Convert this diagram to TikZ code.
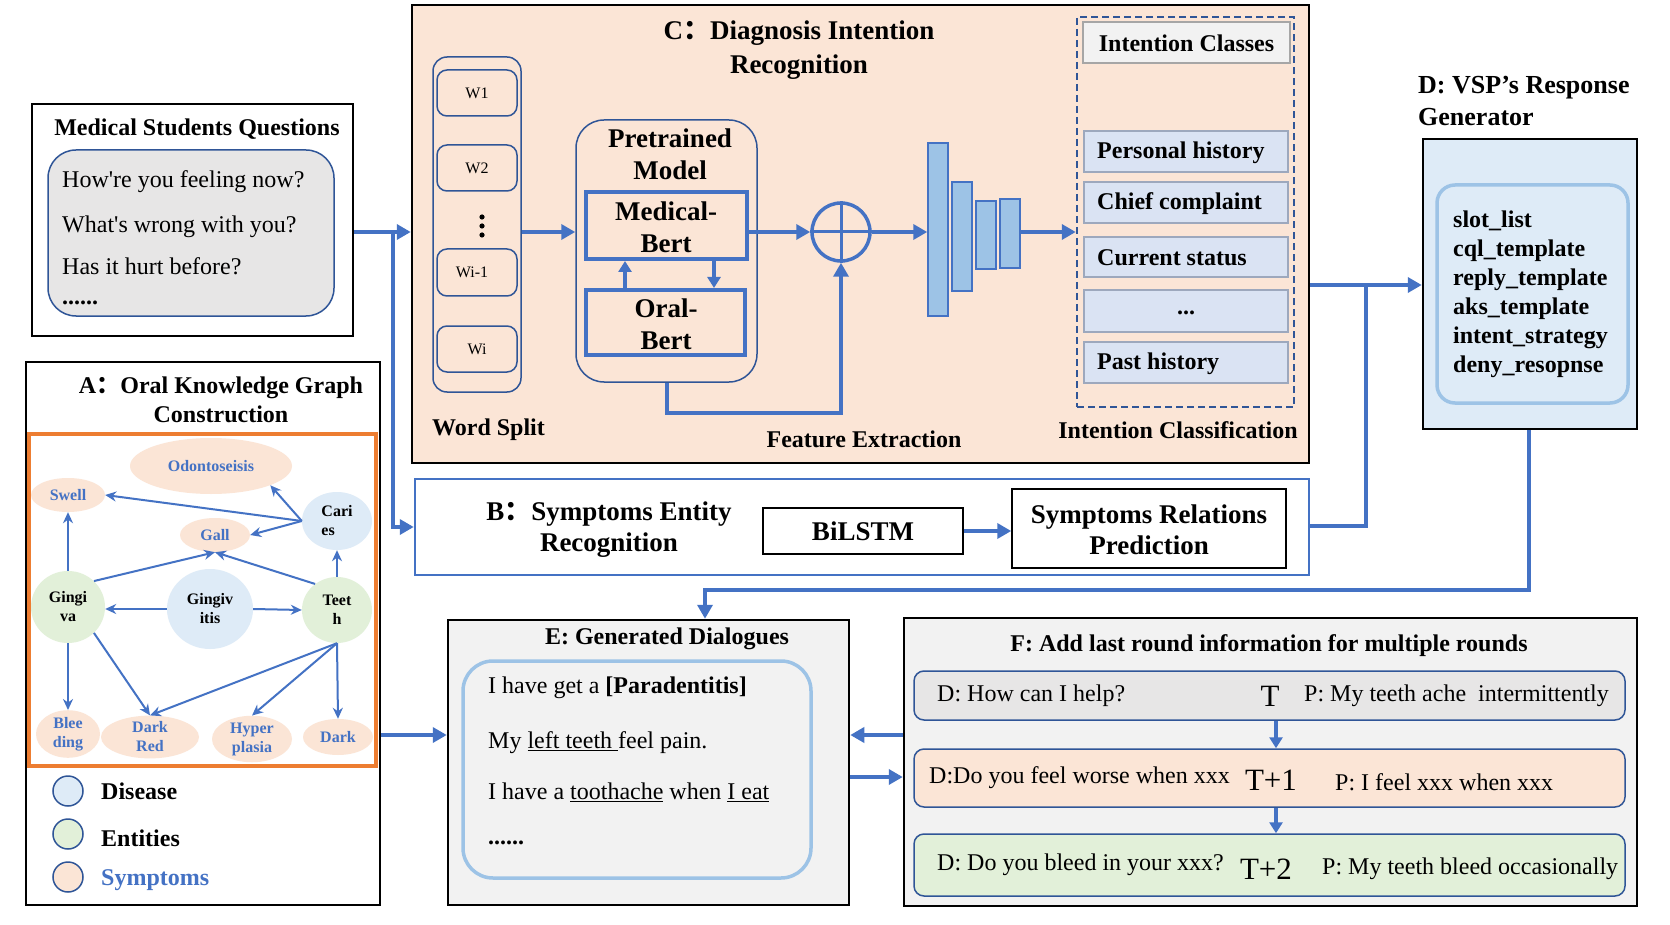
\documentclass[tikz,border=0pt]{standalone}
\usepackage{fontspec}
\setmainfont{Liberation Serif}
\newfontfamily\cjk{Noto Sans CJK SC}
\usetikzlibrary{arrows.meta,fit,shapes.geometric}
\definecolor{myblue}{HTML}{4472C4}
\definecolor{dkblue}{HTML}{2F5597}
\definecolor{peach}{HTML}{FBE5D6}
\definecolor{lblue}{HTML}{DEEBF7}
\definecolor{cblue}{HTML}{DAE3F3}
\definecolor{lgreen}{HTML}{E2F0D9}
\definecolor{lgray}{HTML}{F2F2F2}
\definecolor{mgray}{HTML}{E7E6E6}
\definecolor{sky}{HTML}{9DC3E6}
\definecolor{orng}{HTML}{ED7D31}
\definecolor{gborder}{HTML}{9DA8BD}
\newcommand\fsz[2]{\fontsize{#1}{#2}\selectfont}
\begin{document}
\begin{tikzpicture}[x=1pt,y=-1pt,
 frame/.style={draw, inner sep=0pt, line width=2.5pt},
 rbox/.style={draw=dkblue, inner sep=0pt, line width=1.5pt},
 ar/.style={line width=4pt, draw=myblue, -{Triangle[length=14pt,width=15pt]}},
 sar/.style={line width=4pt, draw=myblue, -{Triangle[length=11pt,width=13pt]}},
 ln/.style={line width=4pt, draw=myblue},
 gar/.style={line width=2pt, draw=myblue, -{Stealth[length=11pt,width=10pt]}},
 ell/.style={ellipse, inner sep=0pt, font=\bfseries\fsz{16}{19}, align=center},
 sym/.style={ell, fill=peach, text=myblue},
 dis/.style={ell, fill=lblue},
 ent/.style={ell, fill=lgreen},
 lab/.style={font=\bfseries\fsz{24}{29}, align=center, inner sep=0pt},
 big/.style={font=\bfseries\fsz{27}{32}, align=center, inner sep=0pt},
 txt/.style={font=\fsz{24}{29}, anchor=west, inner sep=0pt},
 bar/.style={draw=myblue, fill=sky, line width=1.5pt, inner sep=0pt},
 cls/.style={draw=gborder, fill=cblue, line width=1.5pt, inner sep=0pt},
 wbox/.style={rbox, rounded corners=10pt},
 legc/.style={circle, draw=dkblue, line width=1.5pt, minimum size=30pt, inner sep=0pt},
 rowbox/.style={draw=dkblue, line width=1.5pt, rounded corners=10pt, inner sep=0pt}
]
\useasboundingbox[fill=white] (0,0) rectangle (1670,925);

% ---------- Medical Students Questions ----------
\node[frame, fit={(32,104)(353,336)}] (msq) {};
\node[rbox, rounded corners=28pt, fill=mgray, fit={(48,150)(334,316)}] (msqin) {};
\node[lab] (msqt) at (197,129) {Medical Students Questions};
\node[txt] (q1) at (62,182) {How\textquotesingle re you feeling now?};
\node[txt] (q2) at (62,227) {What\textquotesingle s wrong with you?};
\node[txt] (q3) at (62,266) {Has it hurt before?};
\node[txt, font=\bfseries\fsz{24}{29}] (q4) at (62,303) {......};

% ---------- C box ----------
\node[frame, fill=peach, fit={(412,5)(1309,463)}] (cbox) {};
\node[big, font=\bfseries\fsz{27}{34}] (ct) at (799,50) {C{\cjk ：}Diagnosis Intention\\Recognition};
\node[rbox, rounded corners=14pt, fit={(433,57)(521,392)}] (ws) {};
\node[wbox, fit={(437,70)(517,116)}] (w1) {};
\node[font=\fsz{16}{19}] (w1t) at (w1) {W1};
\node[wbox, fit={(437,145)(517,191)}] (w2) {};
\node[font=\fsz{16}{19}] (w2t) at (w2) {W2};
\fill (482,217) circle (2.6pt) (482,226) circle (2.6pt) (482,235) circle (2.6pt);
\node[wbox, fit={(437,249)(517,296)}] (w3) {};
\node[font=\fsz{16}{19}] (w3t) at (472,272) {Wi-1};
\node[wbox, fit={(437,326)(517,372)}] (w4) {};
\node[font=\fsz{16}{19}] (w4t) at (w4) {Wi};
\node[lab, anchor=west] (wsl) at (432,430) {Word Split};

\node[rbox, rounded corners=28pt, fit={(576,120)(757,382)}] (pm) {};
\node[big] (pmt) at (670,154) {Pretrained\\Model};
\node[draw=myblue, line width=4pt, inner sep=0pt, fit={(586,192)(747,259)}] (med) {};
\node[big] (medt) at (666,227) {Medical-\\Bert};
\node[draw=myblue, line width=4pt, inner sep=0pt, fit={(586,290)(745,355)}] (oral) {};
\node[big] (oralt) at (666,324) {Oral-\\Bert};
\coordinate (ua) at (625,0);
\coordinate (da) at (714,0);
\draw[sar] (oral.north -| ua) -- (med.south -| ua);
\draw[sar] (med.south -| da) -- (oral.north -| da);

\node[circle, draw=myblue, line width=3.5pt, minimum size=58pt, inner sep=0pt] (plus) at (841,232) {};
\draw[myblue, line width=3pt] (plus.north) -- (plus.south) (plus.west) -- (plus.east);
\node[lab] (fel) at (864,439) {Feature Extraction};

\node[bar, fit={(928,143)(948,316)}] (b1) {};
\node[bar, fit={(952,182)(972,291)}] (b2) {};
\node[bar, fit={(976,201)(996,269)}] (b3) {};
\node[bar, fit={(1000,199)(1020,268)}] (b4) {};

\node[draw=dkblue, line width=2.5pt, dash pattern=on 7pt off 4pt, inner sep=0pt, fit={(1077,17)(1294,407)}] (dash) {};
\node[draw=gray!70, fill=lgray, line width=1.5pt, inner sep=0pt, fit={(1083,22)(1290,63)}] (icb) {};
\node[lab] (ict) at ([yshift=-1pt]icb.center) {Intention Classes};
\node[cls, fit={(1084,131)(1288,172)}] (c1) {};
\node[lab, anchor=west] (c1t) at (1097,153) {Personal history};
\node[cls, fit={(1084,182)(1288,223)}] (c2) {};
\node[lab, anchor=west] (c2t) at (1097,204) {Chief complaint};
\node[cls, fit={(1084,237)(1288,277)}] (c3) {};
\node[lab, anchor=west] (c3t) at (1097,258) {Current status};
\node[cls, fit={(1084,290)(1288,332)}] (c4) {};
\node[lab] (c4t) at (1186,313) {...};
\node[cls, fit={(1084,342)(1288,383)}] (c5) {};
\node[lab, anchor=west] (c5t) at (1097,364) {Past history};
\node[lab] (icl) at (1178,430) {Intention Classification};

\draw[ar] (ws.east |- plus) -- (pm.west |- plus);
\draw[ar] (med.east |- plus) -- (plus.west);
\draw[ar] (plus.east) -- (b1.west |- plus);
\draw[ar] (b4.east |- plus) -- (dash.west |- plus);
\coordinate (fb) at (667,413);
\draw[ar] (pm.south -| fb) -- (fb) -| (plus.south);

% ---------- D box ----------
\node[font=\bfseries\fsz{26}{32}, align=left, anchor=west, inner sep=0pt] (dt) at (1418,101) {D: VSP’s Response\\Generator};
\node[frame, fill=lblue, fit={(1423,139)(1637,429)}] (dbox) {};
\node[draw=sky, line width=3.5pt, rounded corners=18pt, inner sep=0pt, fit={(1437,185)(1628,403)}] (din) {};
\node[font=\bfseries\fsz{24}{29}, align=left, anchor=west, inner sep=0pt] (dl) at (1453,294)
 {slot\_list\\cql\_template\\reply\_template\\aks\_template\\intent\_strategy\\deny\_resopnse};

% ---------- B box ----------
\node[draw=myblue, line width=2.5pt, inner sep=0pt, fit={(415,479)(1309,575)}] (bbox) {};
\node[big, font=\bfseries\fsz{27}{31}] (bt) at (609,530) {B{\cjk ：}Symptoms Entity\\Recognition};
\node[draw, line width=1.5pt, inner sep=0pt, fit={(763,508)(963,554)}] (bil) {};
\node[big] (bilt) at (bil) {BiLSTM};
\node[draw, line width=1.5pt, inner sep=0pt, fit={(1012,489)(1286,568)}] (srp) {};
\node[big, font=\bfseries\fsz{27}{31}] (srpt) at (1149,530) {Symptoms Relations\\Prediction};
\draw[ar] (bil.east) -- (srp.west |- bil.east);

% ---------- A box ----------
\node[frame, fit={(26,362)(380,905)}] (abox) {};
\node[lab] (at) at (221,400) {A{\cjk ：}Oral Knowledge Graph\\Construction};
\node[draw=orng, line width=3.5pt, inner sep=0pt, fit={(29,434)(376,766)}] (obox) {};
\node[sym, minimum width=162pt, minimum height=56pt] (odo) at (211,466) {Odontoseisis};
\node[sym, minimum width=74pt, minimum height=34pt] (swell) at (68,495) {Swell};
\node[dis, minimum width=70pt, minimum height=58pt, align=left] (car) at (337,521) {Cari\\es};
\node[sym, minimum width=70pt, minimum height=34pt] (gall) at (215,535) {Gall};
\node[ent, minimum width=74pt, minimum height=72pt] (ging) at (68,607) {Gingi\\va};
\node[dis, minimum width=86pt, minimum height=80pt] (gv) at (210,609) {Gingiv\\itis};
\node[ent, minimum width=70pt, minimum height=66pt] (teeth) at (337,610) {Teet\\h};
\node[sym, minimum width=64pt, minimum height=40pt] (bleed) at (68,734) {Blee\\ding};
\node[sym, minimum width=98pt, minimum height=40pt] (dred) at (150,737) {Dark\\Red};
\node[sym, minimum width=80pt, minimum height=42pt] (hyper) at (252,739) {Hyper\\plasia};
\node[sym, minimum width=70pt, minimum height=36pt] (dark) at (338,737) {Dark};
\draw[gar] (ging.north) -- (swell.south);
\draw[gar] (car.west) -- (swell.east);
\draw[gar] (car.west) -- (odo.-18);
\draw[gar] (car.west) -- (gall.east);
\draw[gar] (teeth.north) -- (car.south);
\draw[gar] (teeth.130) -- (gall.south);
\draw[gar] (ging.45) -- (gall.south);
\draw[gar] (gv.west) -- (gv.west -| ging.east);
\draw[gar] (gv.east) -- (teeth.west);
\draw[gar] (ging.south) -- (bleed.north);
\draw[gar] (ging.-45) -- (dred.north);
\draw[gar] (teeth.south) -- (dred.north);
\draw[gar] (teeth.south) -- (hyper.north);
\draw[gar] (teeth.south) -- (dark.north);
\node[legc, fill=lblue] (lg1) at (68,791) {};
\node[legc, fill=lgreen] (lg2) at (68,834) {};
\node[legc, fill=peach] (lg3) at (68,877) {};
\node[lab, anchor=west] (lg1t) at (101,791) {Disease};
\node[lab, anchor=west] (lg2t) at (101,838) {Entities};
\node[lab, anchor=west, text=myblue] (lg3t) at (101,880) {Symptoms};

% ---------- E box ----------
\node[frame, fill=lgray, fit={(448,620)(849,905)}] (ebox) {};
\node[lab] (et) at (667,639) {E: Generated Dialogues};
\node[draw=sky, line width=3.5pt, rounded corners=30pt, inner sep=0pt, fit={(463,661)(811,878)}] (ein) {};
\node[txt] (e1) at (488,688) {I have get a \textbf{[Paradentitis]}};
\node[txt] (e2) at (488,743) {My \underline{left teeth\ }feel pain.};
\node[txt] (e3) at (488,792) {I have a \underline{toothache} when \underline{I eat}};
\node[txt, font=\bfseries\fsz{24}{29}] (e4) at (488,843) {......};

% ---------- F box ----------
\node[frame, fill=lgray, fit={(904,618)(1637,906)}] (fbox) {};
\node[lab] (ft) at (1269,646) {F: Add last round information for multiple rounds};
\node[rowbox, fill=mgray, fit={(914,671)(1625,720)}] (r1) {};
\node[rowbox, fill=peach, fit={(914,749)(1625,807)}] (r2) {};
\node[rowbox, fill=lgreen, fit={(914,834)(1625,896)}] (r3) {};
\node[txt] (r1a) at (937,696) {D: How can I help?};
\node[font=\fsz{31}{31}, inner sep=0pt] (r1b) at (1270,696) {T};
\node[txt] (r1c) at (1304,696) {P: My teeth ache\ \ intermittently};
\node[txt] (r2a) at (929,778) {D:Do you feel worse when xxx};
\node[font=\fsz{31}{31}, inner sep=0pt] (r2b) at (1271,780) {T+1};
\node[txt] (r2c) at (1335,782) {P: I feel xxx when xxx};
\node[txt] (r3a) at (937,865) {D: Do you bleed in your xxx?};
\node[font=\fsz{31}{31}, inner sep=0pt] (r3b) at (1266,869) {T+2};
\node[txt] (r3c) at (1322,869) {P: My teeth bleed occasionally};
\coordinate (ra) at (1276,0);
\draw[sar] (r1.south -| ra) -- (r2.north -| ra);
\draw[sar] (r2.south -| ra) -- (r3.north -| ra);

% ---------- connectors ----------
\coordinate (j1) at (393,232);
\draw[ar] (msq.east |- j1) -- (cbox.west |- j1);
\draw[ar] (j1) |- (bbox.west);
\coordinate (dlv) at (1366,285);
\draw[ar] (cbox.east |- dlv) -- (dbox.west |- dlv);
\coordinate (jb) at (1366,526);
\draw[ln] (bbox.east |- jb) -- (jb) -- (dlv);
\coordinate (dd) at (1529,590);
\coordinate (ek) at (705,590);
\draw[ar] (dbox.south -| dd) -- (dd) -- (ek) -- (ebox.north -| ek);
\coordinate (elv) at (0,735);
\coordinate (flv) at (0,777);
\draw[ar] (abox.east |- elv) -- (ebox.west |- elv);
\draw[ar] (fbox.west |- elv) -- (ebox.east |- elv);
\draw[ar] (ebox.east |- flv) -- (fbox.west |- flv);
\end{tikzpicture}
\end{document}
